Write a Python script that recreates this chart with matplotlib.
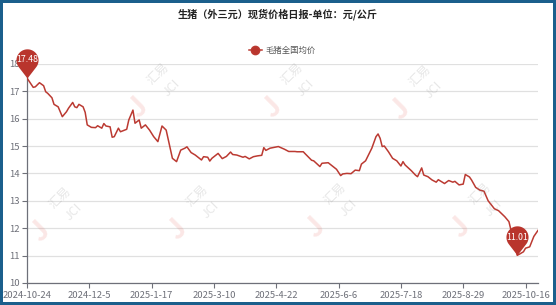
import matplotlib
matplotlib.use('Agg')
import matplotlib.pyplot as plt
import numpy as np
from matplotlib.path import Path

# Fonte com glifos chineses
plt.rcParams['font.family'] = ['Noto Sans CJK SC', 'DejaVu Sans']

# Dados
titulo = '生猪（外三元）现货价格日报-单位：元/公斤'
nome_serie = '毛猪全国均价'
n_pontos = 247
passo_rotulo = 30
rotulos_x = ['2024-10-24', '2024-12-5', '2025-1-17', '2025-3-10', '2025-4-22',
             '2025-6-6', '2025-7-18', '2025-8-29', '2025-10-16']

posicoes = [0, 3, 4, 6, 8, 9, 10, 12, 13, 15, 16, 17, 19, 20, 22, 23, 24, 25, 27, 28,
            29, 31, 33, 34, 36, 37, 38, 40, 41, 42, 44, 45, 48, 49, 51, 52, 54, 55, 57, 59,
            61, 63, 65, 67, 68, 70, 72, 74, 76, 77, 79, 81, 84, 85, 87, 88, 89, 92, 94, 96,
            98, 99, 101, 104, 105, 107, 109, 111, 113, 114, 115, 117, 121, 124, 126, 129, 130, 133, 134, 137,
            138, 141, 142, 145, 147, 149, 151, 152, 154, 156, 158, 160, 161, 163, 166, 168, 169, 170, 171, 172,
            174, 176, 178, 180, 181, 182, 185, 187, 188, 190, 191, 193, 195, 197, 198, 201, 203, 205, 206, 208,
            210, 211, 213, 214, 216, 218, 220, 222, 225, 227, 230, 232, 233, 234, 236, 237, 239, 240, 242, 244,
            246]
precos = [17.48, 17.14, 17.16, 17.31, 17.20, 16.98, 16.92, 16.76, 16.52, 16.43, 16.25, 16.07, 16.25, 16.38, 16.59, 16.43, 16.40, 16.52, 16.43, 16.23,
          15.77, 15.68, 15.67, 15.74, 15.65, 15.82, 15.73, 15.70, 15.32, 15.34, 15.65, 15.52, 15.61, 15.95, 16.31, 15.83, 15.95, 15.65, 15.77, 15.58,
          15.34, 15.16, 15.73, 15.58, 15.24, 14.55, 14.43, 14.85, 14.92, 14.97, 14.76, 14.67, 14.49, 14.61, 14.59, 14.45, 14.55, 14.73, 14.54, 14.62,
          14.78, 14.69, 14.67, 14.59, 14.62, 14.53, 14.61, 14.64, 14.66, 14.94, 14.84, 14.92, 14.98, 14.88, 14.80, 14.80, 14.79, 14.79, 14.71, 14.48,
          14.46, 14.25, 14.37, 14.39, 14.27, 14.15, 13.92, 13.98, 14.00, 13.99, 14.12, 14.10, 14.34, 14.46, 14.92, 15.34, 15.44, 15.28, 14.98, 15.00,
          14.79, 14.55, 14.46, 14.27, 14.43, 14.31, 14.10, 13.94, 13.88, 14.20, 13.94, 13.88, 13.76, 13.68, 13.77, 13.63, 13.74, 13.68, 13.71, 13.58,
          13.61, 13.96, 13.87, 13.76, 13.49, 13.39, 13.35, 13.00, 12.71, 12.64, 12.42, 12.24, 11.93, 11.69, 11.01, 11.05, 11.14, 11.27, 11.32, 11.70,
          11.92]

cor_linha = '#bb3a32'
cor_pino = '#b9352d'
cor_eixo = '#6e7079'

fig = plt.figure(figsize=(5.56, 3.05), dpi=100)
fig.patch.set_facecolor('white')
fig.patch.set_edgecolor('#1b5f8c')
fig.patch.set_linewidth(3)
ax = fig.add_axes([27 / 556, 1 - 283 / 305, (538 - 27) / 556, (283 - 63.8) / 305])

# Marca d'água (só as que ficam dentro da figura)
marcas = [(138, 108), (272, 108), (400, 110),
          (40, 232), (177, 230), (315, 228), (460, 228)]
for mx, my in marcas:
    fx, fy = mx / 556, 1 - my / 305
    fig.text(fx, fy, 'J', color='#e0443a', alpha=0.13, fontsize=20, fontweight='bold',
             rotation=45, ha='center', va='center', zorder=0)
    fig.text(fx + 20 / 556, fy + 34 / 305, '汇易', color='#888888', alpha=0.2, fontsize=9,
             rotation=45, ha='center', va='center', zorder=0)
    fig.text(fx + 34 / 556, fy + 20 / 305, 'JCI', color='#888888', alpha=0.2, fontsize=9,
             rotation=45, ha='center', va='center', zorder=0)

ax.patch.set_alpha(0)
ax.plot(posicoes, precos, color=cor_linha, linewidth=1.1, zorder=3, label=nome_serie)

# Pinos de máximo e mínimo
h = 1.64
theta = np.linspace(np.radians(-37.6), np.radians(217.6), 50)
verts = [(np.cos(t), h + np.sin(t)) for t in theta] + [(0, 0), (0, 0)]
codes = [Path.MOVETO] + [Path.LINETO] * (len(verts) - 2) + [Path.CLOSEPOLY]
pino = Path(verts, codes)
tam = 42
desloc = h / (h + 1) * tam / 2

i_max = int(np.argmax(precos))
i_min = int(np.argmin(precos))
for i in [i_max, i_min]:
    ax.plot(posicoes[i], precos[i], marker=pino, markersize=tam, color=cor_pino,
            markeredgewidth=0, linestyle='none', clip_on=False, zorder=5)
    ax.annotate(f'{precos[i]:.2f}', (posicoes[i], precos[i]), xytext=(0, desloc),
                textcoords='offset points', ha='center', va='center', color='white',
                fontsize=6.3, zorder=6, annotation_clip=False)

ax.set_xlim(0, n_pontos - 1)
ax.set_ylim(10, 18)
ax.set_xticks(range(0, n_pontos, passo_rotulo))
ax.set_xticklabels(rotulos_x)
ax.set_yticks(range(10, 19))
ax.grid(axis='y', color='#e0e0e0', linewidth=0.9)
ax.set_axisbelow(True)
for lado in ['top', 'right']:
    ax.spines[lado].set_visible(False)
for lado in ['left', 'bottom']:
    ax.spines[lado].set_color(cor_eixo)
    ax.spines[lado].set_linewidth(0.9)
ax.tick_params(axis='both', colors=cor_eixo, labelsize=6.8, length=3.5, width=0.8, pad=2)

# Título e legenda
fig.text(0.5, 1 - 14 / 305, titulo, ha='center', va='center', fontsize=7.3,
         fontweight='bold', color='#222222')
fig.legend(loc='center', bbox_to_anchor=(282 / 556, 1 - 50 / 305), frameon=False,
           fontsize=6, labelcolor='#555555', handlelength=1.6, handletextpad=0.4,
           handles=[plt.Line2D([], [], color=cor_linha, linewidth=1.1, marker='o',
                               markersize=6, markerfacecolor=cor_pino)],
           labels=[nome_serie])

fig.savefig('out.png', dpi=100)
